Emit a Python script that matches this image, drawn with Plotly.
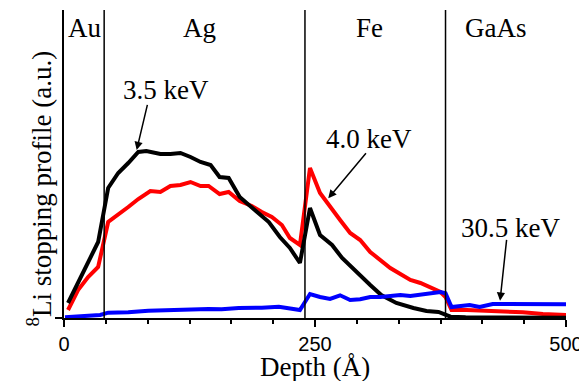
import plotly.graph_objects as go

# ---- data ----
depth_35 = [4, 14, 24, 34, 44, 54, 64, 74, 82, 96, 106, 116, 126, 136, 146, 155, 164, 175, 190, 204,
            215, 225, 235, 245, 255, 267, 277, 292, 305, 316, 331, 348, 361, 373, 380, 385, 400, 450, 500]
prof_35 = [15, 36, 56, 76, 130, 145, 155, 166, 167, 164, 164, 165, 161, 156, 153, 141, 140, 121, 108, 96,
           81, 70, 55, 110, 83, 73, 60, 45, 33, 23, 15, 10, 7, 6, 3, 1.3, 0.8, 0.5, 0.3]

depth_40 = [4, 14, 24, 34, 44, 54, 64, 74, 86, 96, 106, 116, 126, 136, 144, 155, 164, 175, 187, 197,
            207, 217, 225, 235, 245, 255, 265, 275, 285, 295, 305, 315, 325, 335, 345, 355, 365, 375,
            380, 386, 401, 431, 457, 477, 500]
prof_40 = [8, 28, 41, 51, 96, 103, 111, 119, 127, 126, 132, 133, 136, 132, 132, 124, 126, 117, 112, 106,
           101, 93, 80, 73, 150, 125, 111, 98, 85, 78, 66, 58, 50, 44, 38, 35, 30, 26,
           21, 8, 8, 7, 5.7, 4, 3]

depth_305 = [1, 36, 44, 64, 84, 104, 124, 144, 157, 174, 197, 214, 235, 245, 255, 265, 275, 285, 295,
             305, 315, 325, 335, 345, 355, 365, 375, 380, 386, 404, 414, 427, 457, 500]
prof_305 = [0.7, 3, 5.3, 5.7, 7.3, 8, 9, 9, 8.7, 10, 10.3, 11.3, 8, 24, 21, 19, 22.7, 18, 18.7,
            21, 21, 22, 23, 22, 23, 24, 26, 24.7, 11, 13, 11, 14, 14, 13.7]

boundaries = [40, 240, 380]
layer_names = ["Au", "Ag", "Fe", "GaAs"]
layer_label_x = [20, 134.5, 304, 430]

energy_labels = ["3.5 keV", "4.0 keV", "30.5 keV"]
x_ticks = [0, 250, 500]

SERIF = "Liberation Serif"
SANS = "Liberation Sans"

fig = go.Figure()
fig.add_trace(go.Scatter(x=depth_40, y=prof_40, mode="lines",
                         line=dict(color="#ff0000", width=4), name="4.0 keV"))
fig.add_trace(go.Scatter(x=depth_35, y=prof_35, mode="lines",
                         line=dict(color="#000000", width=4), name="3.5 keV"))
fig.add_trace(go.Scatter(x=depth_305, y=prof_305, mode="lines",
                         line=dict(color="#0000ff", width=4), name="30.5 keV"))

for b in boundaries:
    fig.add_shape(type="line", xref="x", yref="paper", x0=b, x1=b, y0=0, y1=1,
                  line=dict(color="black", width=1.5))

ann = []
for name, lx in zip(layer_names, layer_label_x):
    ann.append(dict(x=lx, y=290, xref="x", yref="y", text=name, showarrow=False,
                    font=dict(family=SERIF, size=27, color="black")))

label_pos = [(101.6, 228), (304, 179), (445, 90)]
arrows = [((83.4, 214.7), (72.4, 168)), ((302, 166.3), (263.2, 119.7)), ((441, 79.7), (434.3, 17.3))]
for txt, (tx, ty), ((ax, ay), (hx, hy)) in zip(energy_labels, label_pos, arrows):
    ann.append(dict(x=tx, y=ty, xref="x", yref="y", text=txt, showarrow=False,
                    font=dict(family=SERIF, size=27, color="black")))
    ann.append(dict(x=hx, y=hy, ax=ax, ay=ay, xref="x", yref="y", axref="x", ayref="y",
                    text="", showarrow=True, arrowhead=2, arrowsize=1.1, arrowwidth=1.5,
                    arrowcolor="black", standoff=0, startstandoff=0))

ann.append(dict(x=0.5, y=-0.105, xref="paper", yref="paper", text="Depth (Å)", showarrow=False,
                yanchor="top", font=dict(family=SERIF, size=27, color="black")))
ann.append(dict(x=-0.088, y=0.42, xref="paper", yref="paper",
                text="<sup>8</sup>Li stopping profile (a.u.)", showarrow=False, textangle=-90,
                font=dict(family=SERIF, size=27, color="black")))

# the page body adds an 8 px offset, so the figure is 16 px smaller than the window
fig.update_layout(
    width=579, height=373,
    margin=dict(l=56, r=21, t=2, b=63, autoexpand=False),
    paper_bgcolor="white", plot_bgcolor="white",
    showlegend=False,
    annotations=ann,
    xaxis=dict(range=[0, 500], tickvals=x_ticks, ticktext=[str(t) for t in x_ticks],
               automargin=False,
               showgrid=False, zeroline=False, showline=True, linecolor="black", linewidth=1.5,
               ticks="outside", ticklen=7, tickwidth=1.5, tickcolor="black",
               minor=dict(dtick=250 / 6, tick0=0, ticks="outside", ticklen=4, tickwidth=1.5,
                          tickcolor="black", showgrid=False),
               tickfont=dict(family=SANS, size=20, color="black")),
    yaxis=dict(range=[0, 308], automargin=False,
               showgrid=False, zeroline=False, showline=True, linecolor="black",
               linewidth=1.5, tickvals=[0], ticks="outside", ticklen=7, tickwidth=1.5,
               tickcolor="black", showticklabels=False),
)

fig.write_html("out.html")
